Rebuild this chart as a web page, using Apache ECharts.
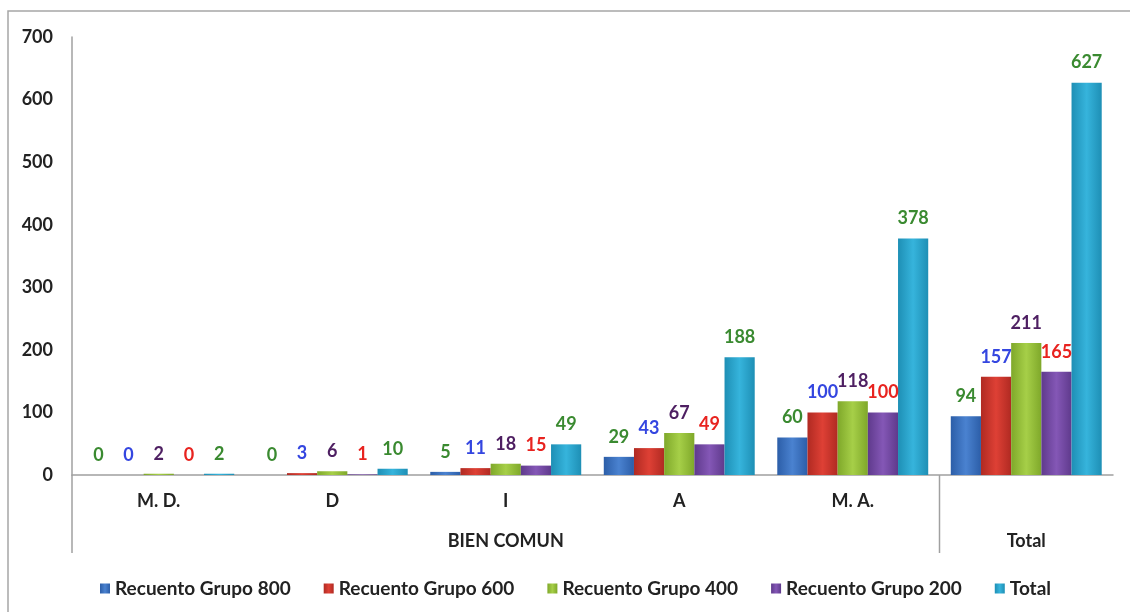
<!DOCTYPE html>
<html>
<head>
<meta charset="utf-8">
<script src="https://cdn.jsdelivr.net/npm/echarts@6/dist/echarts.min.js"></script>
<style>
  html, body { margin: 0; padding: 0; background: #fff; }
  #main { width: 1130px; height: 612px; }
</style>
</head>
<body>
<div id="main"></div>
<script>
// categories (two levels)
var categories = ['M. D.', 'D', 'I', 'A', 'M. A.', 'Total'];
var groupLabels = ['', '', 'BIEN COMUN', '', '', 'Total'];

// series values
var grupo800 = [0, 0, 5, 29, 60, 94];
var grupo600 = [0, 3, 11, 43, 100, 157];
var grupo400 = [2, 6, 18, 67, 118, 211];
var grupo200 = [0, 1, 15, 49, 100, 165];
var total = [2, 10, 49, 188, 378, 627];

var yTicks = [0, 700, 100]; // min, max, interval

var FONT = 'Lato';
var FS = 18;

function grad(edge, mid) {
    return new echarts.graphic.LinearGradient(0, 0, 1, 0, [
        { offset: 0, color: edge },
        { offset: 0.5, color: mid },
        { offset: 1, color: edge }
    ]);
}

function makeSeries(name, data, edge, mid, labelColor) {
    return {
        name: name,
        type: 'bar',
        data: data,
        barGap: '0%',
        barCategoryGap: '13%',
        itemStyle: { color: grad(edge, mid) },
        label: {
            show: true,
            position: 'top',
            distance: 11,
            color: labelColor,
            fontWeight: 'bold',
            fontSize: FS,
            fontFamily: FONT
        }
    };
}

var myChart = echarts.init(document.getElementById('main'));

var option = {
    backgroundColor: '#fff',
    textStyle: { fontFamily: FONT },
    grid: { left: 72, right: 17, top: 37, bottom: 137 },
    legend: {
        top: 574,
        left: 95,
        icon: 'rect',
        itemWidth: 10,
        itemHeight: 10,
        itemGap: 33,
        textStyle: { fontWeight: 'bold', fontSize: 19, color: '#222', fontFamily: FONT }
    },
    xAxis: [{
        type: 'category',
        data: categories,
        position: 'bottom',
        axisLine: { lineStyle: { color: '#a0a0a0', width: 1.5 } },
        axisTick: { show: false },
        axisLabel: {
            margin: 17, fontWeight: 'bold', fontSize: FS, color: '#222',
            // the last column is labelled only on the second row
            formatter: function (value, index) { return index === 5 ? '' : value; }
        }
    }, {
        // second level labels
        type: 'category',
        data: groupLabels,
        position: 'bottom',
        axisLine: { show: false },
        axisTick: { show: false },
        axisLabel: { margin: 57, interval: 0, fontWeight: 'bold', fontSize: FS, color: '#222' }
    }],
    yAxis: {
        type: 'value',
        min: yTicks[0],
        max: yTicks[1],
        interval: yTicks[2],
        splitLine: { show: false },
        axisLine: { show: true, lineStyle: { color: '#a0a0a0', width: 1.5 } },
        axisTick: { show: false },
        axisLabel: { margin: 19, fontWeight: 'bold', fontSize: FS, color: '#222' }
    },
    series: [
        makeSeries('Recuento Grupo 800', grupo800, '#2c5ea8', '#4a82d0', '#3a8a30'),
        makeSeries('Recuento Grupo 600', grupo600, '#b02a22', '#de4035', '#3446e0'),
        makeSeries('Recuento Grupo 400', grupo400, '#7fa82a', '#a6cf48', '#4e1f62'),
        makeSeries('Recuento Grupo 200', grupo200, '#5f3a8c', '#8457b6', '#e8231f'),
        makeSeries('Total', total, '#1e8fb5', '#36b4dc', '#3a8a30')
    ]
};

myChart.setOption(option);

// outer frame and the group separators below the axis, placed from the axes
function drawFrame() {
    var y0 = myChart.convertToPixel({ yAxisIndex: 0 }, 0);
    var xa = myChart.convertToPixel({ xAxisIndex: 0 }, categories[4]);
    var xb = myChart.convertToPixel({ xAxisIndex: 0 }, categories[5]);
    var x0 = myChart.convertToPixel({ xAxisIndex: 0 }, categories[0]);
    var band = xb - xa;
    var lineStyle = { stroke: '#a0a0a0', lineWidth: 1.5 };
    myChart.setOption({
        graphic: [{
            id: 'frame',
            type: 'rect',
            shape: { x: 8, y: 11, width: 1130, height: 620 },
            style: { fill: 'none', stroke: '#a6a6a6', lineWidth: 1.5 },
            silent: true
        }, {
            id: 'sepLeft',
            type: 'line',
            shape: { x1: x0 - band / 2, y1: y0, x2: x0 - band / 2, y2: y0 + 78 },
            style: lineStyle,
            silent: true
        }, {
            id: 'sepTotal',
            type: 'line',
            shape: { x1: (xa + xb) / 2, y1: y0, x2: (xa + xb) / 2, y2: y0 + 78 },
            style: lineStyle,
            silent: true
        }]
    });
}
drawFrame();

window.addEventListener('resize', function () {
    myChart.resize();
    drawFrame();
});
</script>
</body>
</html>
